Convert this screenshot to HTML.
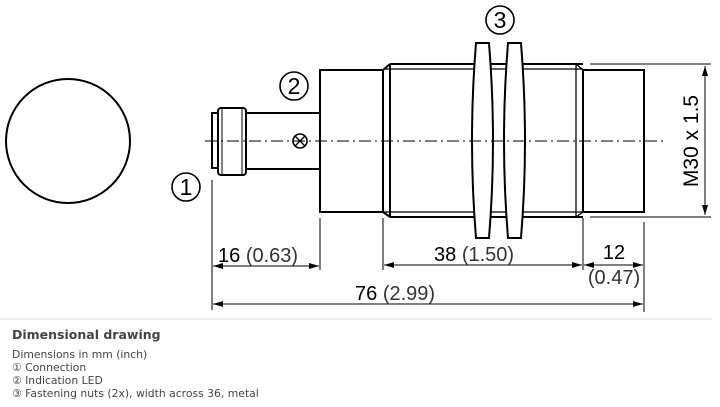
<!DOCTYPE html>
<html><head><style>
body{margin:0;background:#fff;width:720px;height:407px;overflow:hidden;position:relative;font-family:"Liberation Sans","DejaVu Sans",sans-serif}
.t{position:absolute;left:12px;color:#444;font-size:10.8px;line-height:13px;font-family:"DejaVu Sans","Liberation Sans",sans-serif}
</style></head><body>
<svg width="720" height="407" style="position:absolute;left:0;top:0">
<defs><marker id="a" markerWidth="10" markerHeight="6" refX="10" refY="3" orient="auto-start-reverse" markerUnits="userSpaceOnUse"><path d="M0,0 L10,3 L0,6z" fill="#000"/></marker></defs>
<g fill="none" stroke="#000" stroke-width="2">
<circle cx="68" cy="141" r="62"/>
<rect x="212" y="113" width="6" height="55"/>
<rect x="218" y="108" width="28" height="67" rx="3"/>
<line x1="222" y1="108" x2="222" y2="175" stroke-width="1"/>
<line x1="242" y1="108" x2="242" y2="175" stroke-width="1"/>
<path d="M246,113 H320 M246,169 H320"/>
<rect x="320" y="70" width="63" height="142"/>
<path d="M390,64 H583 M390,217 H583 M383,70 L390,64 M383,212 L390,217 M390,64 V217" />
<path d="M383,69 H583 M383,212 H583" stroke-width="1.3"/>
<path d="M576,64 L583,70 M576,217 L583,212 M576,64 V217" stroke-width="1.3"/>
<rect x="583" y="70" width="61" height="142"/>
<path d="M476,43 H489 Q497,141 489,238 H476 Q468,141 476,43Z" fill="#fff"/>
<path d="M508,43 H521 Q529,141 521,238 H508 Q500,141 508,43Z" fill="#fff"/>
<circle cx="300" cy="141" r="7" stroke-width="1.6"/>
<path d="M295,136 L305,146 M305,136 L295,146" stroke-width="1.4"/>
</g>
<line x1="205" y1="141" x2="663" y2="141" stroke="#000" stroke-width="1" stroke-dasharray="12,4,2,4"/>
<g stroke="#000" stroke-width="1" fill="none">
<path d="M590,64 H711 M590,217 H711"/>
<line x1="705" y1="66" x2="705" y2="215" marker-start="url(#a)" marker-end="url(#a)"/>
<path d="M212,180 V310 M320,218 V270 M383,218 V270 M583,218 V270 M644,222 V312"/>
<line x1="213" y1="266" x2="319" y2="266" marker-start="url(#a)" marker-end="url(#a)"/>
<line x1="384" y1="265" x2="582" y2="265" marker-start="url(#a)" marker-end="url(#a)"/>
<line x1="584" y1="265" x2="643" y2="265" marker-start="url(#a)" marker-end="url(#a)"/>
<line x1="213" y1="304" x2="643" y2="304" marker-start="url(#a)" marker-end="url(#a)"/>
<line x1="0" y1="319" x2="712" y2="319" stroke="#ddd"/>
</g>
<g font-family="Liberation Sans, sans-serif" fill="#000">
<circle cx="186" cy="187" r="14" fill="none" stroke="#000" stroke-width="1.6"/><text x="186" y="195" font-size="23" text-anchor="middle">1</text>
<circle cx="294" cy="86" r="14" fill="none" stroke="#000" stroke-width="1.6"/><text x="294" y="94" font-size="23" text-anchor="middle">2</text>
<circle cx="500" cy="20" r="14" fill="none" stroke="#000" stroke-width="1.6"/><text x="500" y="28" font-size="23" text-anchor="middle">3</text>
<text x="218" y="262" font-size="20">16 <tspan fill="#333">(0.63)</tspan></text>
<text x="434" y="261" font-size="20">38 <tspan fill="#333">(1.50)</tspan></text>
<text x="614" y="259" font-size="20" text-anchor="middle">12</text>
<text x="614" y="284" font-size="20" text-anchor="middle" fill="#333">(0.47)</text>
<text x="355" y="300" font-size="20">76 <tspan fill="#333">(2.99)</tspan></text>
<text transform="translate(698,141) rotate(-90)" font-size="21" text-anchor="middle">M30 x 1.5</text>
</g>
</svg>
<div class="t" style="top:327px;font-size:12.5px;font-weight:bold;line-height:16px">Dimensional drawing</div>
<div class="t" style="top:348px">Dimensions in mm (inch)<br>① Connection<br>② Indication LED<br>③ Fastening nuts (2x), width across 36, metal</div>
</body></html>
